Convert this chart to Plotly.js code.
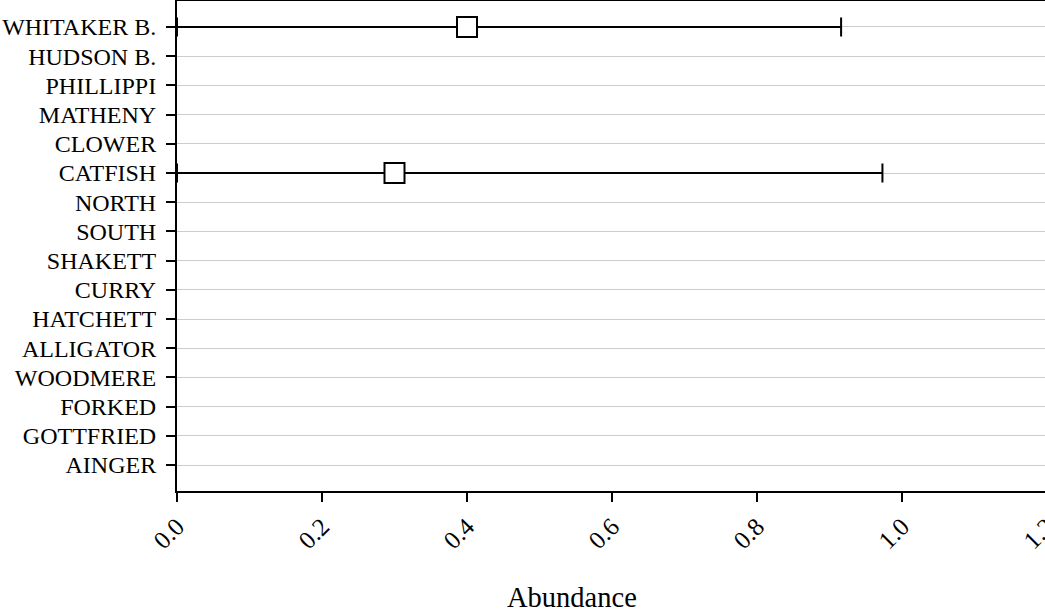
<!DOCTYPE html>
<html>
<head>
<meta charset="utf-8">
<script src="https://cdn.plot.ly/plotly-3.0.1.min.js"></script>
<style>
  html, body { margin: 0; padding: 0; overflow: hidden; background: #ffffff; }
  #chart { width: 1100px; height: 614px; }
</style>
</head>
<body>
<div id="chart"></div>
<script>
// Lakes, top to bottom
const lakes = ["WHITAKER B.", "HUDSON B.", "PHILLIPPI", "MATHENY", "CLOWER", "CATFISH",
  "NORTH", "SOUTH", "SHAKETT", "CURRY", "HATCHETT", "ALLIGATOR", "WOODMERE",
  "FORKED", "GOTTFRIED", "AINGER"];
// Estimated abundance and interval bounds (null = no data)
const abundance = [0.40, null, null, null, null, 0.30, null, null, null, null, null, null, null, null, null, null];
const upper     = [0.916, null, null, null, null, 0.973, null, null, null, null, null, null, null, null, null, null];
const lower     = [0.0, null, null, null, null, 0.0, null, null, null, null, null, null, null, null, null, null];
const xTicks = [0.0, 0.2, 0.4, 0.6, 0.8, 1.0, 1.2];
const xTickText = ["0.0", "0.2", "0.4", "0.6", "0.8", "1.0", "1.2"];
const xLabel = "Abundance";

const plus = abundance.map((v, i) => v == null ? null : upper[i] - v);
const minus = abundance.map((v, i) => v == null ? null : v - lower[i]);

const font = "Liberation Serif, Times New Roman, serif";

const trace = {
  type: "scatter",
  mode: "markers",
  x: abundance,
  y: lakes,
  marker: { symbol: "square", size: 20, color: "#ffffff", line: { color: "#000000", width: 2 } },
  error_x: { type: "data", symmetric: false, array: plus, arrayminus: minus,
             color: "#000000", thickness: 2, width: 9.5 },
  cliponaxis: true,
  hoverinfo: "x+y",
  showlegend: false
};

const layout = {
  width: 1100,
  height: 614,
  margin: { l: 177, r: 53, t: 1, b: 123, pad: 0 },
  paper_bgcolor: "#ffffff",
  plot_bgcolor: "#ffffff",
  font: { family: font, color: "#000000", size: 24 },
  showlegend: false,
  xaxis: {
    range: [0, 1.2],
    tickmode: "array",
    tickvals: xTicks,
    ticktext: xTickText,
    tickangle: -45,
    ticks: "outside",
    ticklen: 9,
    tickwidth: 2,
    tickcolor: "#000000",
    showgrid: false,
    zeroline: false,
    showline: true,
    linecolor: "#000000",
    linewidth: 2,
    mirror: true,
    tickfont: { family: font, size: 25, color: "#000000" }
  },
  yaxis: {
    type: "category",
    categoryorder: "array",
    categoryarray: lakes,
    range: [15.89, -0.89],
    ticks: "outside",
    ticklen: 9,
    tickwidth: 2,
    tickcolor: "#000000",
    showgrid: true,
    gridcolor: "#cccccc",
    gridwidth: 1,
    zeroline: false,
    showline: true,
    linecolor: "#000000",
    linewidth: 2,
    mirror: true,
    ticklabelstandoff: 5,
    tickfont: { family: font, size: 24, color: "#000000" }
  },
  annotations: [{
    text: xLabel,
    xref: "paper", yref: "paper",
    x: (572 - 177) / 870, y: (491 - 597) / 490,
    xanchor: "center", yanchor: "middle",
    showarrow: false,
    font: { family: font, size: 28.5, color: "#000000" }
  }]
};

Plotly.newPlot("chart", [trace], layout, { displayModeBar: false, staticPlot: true });
</script>
</body>
</html>
